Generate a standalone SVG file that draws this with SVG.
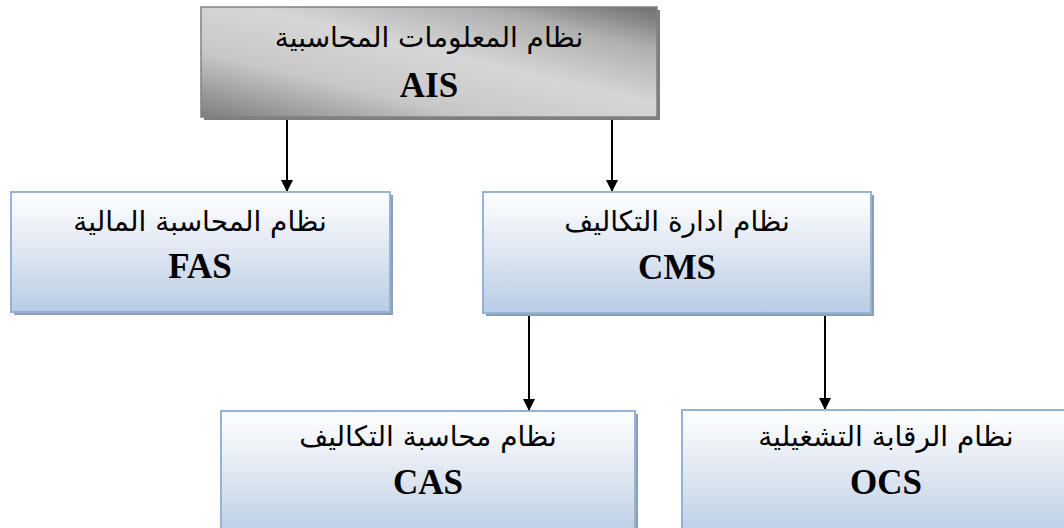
<svg xmlns="http://www.w3.org/2000/svg" width="1064" height="528" viewBox="0 0 1064 528">
<defs>
<linearGradient id="gBlue" x1="0" y1="0" x2="0" y2="1">
<stop offset="0" stop-color="#ffffff"/>
<stop offset="0.45" stop-color="#e2e9f3"/>
<stop offset="1" stop-color="#b9cce4"/>
</linearGradient>
<linearGradient id="gGray" x1="0" y1="1" x2="1" y2="0">
<stop offset="0" stop-color="#7e7e7e"/>
<stop offset="0.3" stop-color="#c8c8c8"/>
<stop offset="0.55" stop-color="#d6d6d6"/>
<stop offset="0.8" stop-color="#b0b0b0"/>
<stop offset="1" stop-color="#6e6e6e"/>
</linearGradient>
<marker id="arr" markerUnits="userSpaceOnUse" markerWidth="12" markerHeight="14" refX="11" refY="6" orient="auto">
<path d="M0,0 L12,6 L0,12 Z" fill="#000"/>
</marker>
<style>
.shadowB{fill:#8c9fb5}
.shadowG{fill:#7f7f7f}
.boxB{fill:url(#gBlue);stroke:#95b3d7;stroke-width:2}
.boxG{fill:url(#gGray);stroke:#808080;stroke-width:1.5}
.ar{font-family:"DejaVu Sans","Noto Sans",sans-serif;font-size:28px;fill:#000;text-anchor:middle}
.en{font-family:"Liberation Serif","Times New Roman",serif;font-weight:bold;font-size:35px;fill:#000;text-anchor:middle}
.conn{stroke:#000;stroke-width:2;fill:none;marker-end:url(#arr)}
</style>
</defs>
<rect width="1064" height="528" fill="#fff"/>
<g id="connectors">
<line class="conn" x1="287" y1="117" x2="287" y2="191"/>
<line class="conn" x1="612" y1="117" x2="612" y2="191"/>
<line class="conn" x1="529" y1="315" x2="529" y2="410"/>
<line class="conn" x1="825" y1="315" x2="825" y2="409"/>
</g>
<g id="node-AIS">
<rect class="shadowG" x="204" y="10" width="456" height="110"/>
<rect class="boxG" x="201" y="7" width="456" height="110"/>
<text class="ar" x="429" y="47" direction="rtl">نظام المعلومات المحاسبية</text>
<text class="en" x="429" y="97">AIS</text>
</g>
<g id="node-FAS">
<rect class="shadowB" x="14" y="195" width="379" height="120"/>
<rect class="boxB" x="11" y="192" width="379" height="120"/>
<text class="ar" x="200" y="231" direction="rtl">نظام المحاسبة المالية</text>
<text class="en" x="200" y="278">FAS</text>
</g>
<g id="node-CMS">
<rect class="shadowB" x="486" y="195" width="388" height="121"/>
<rect class="boxB" x="483" y="192" width="388" height="121"/>
<text class="ar" x="677" y="231" direction="rtl">نظام ادارة التكاليف</text>
<text class="en" x="677" y="279">CMS</text>
</g>
<g id="node-CAS">
<rect class="shadowB" x="224" y="414" width="414" height="130"/>
<rect class="boxB" x="221" y="411" width="414" height="130"/>
<text class="ar" x="428" y="446" direction="rtl">نظام محاسبة التكاليف</text>
<text class="en" x="428" y="494">CAS</text>
</g>
<g id="node-OCS">
<rect class="shadowB" x="685" y="413" width="414" height="130"/>
<rect class="boxB" x="682" y="410" width="414" height="130"/>
<text class="ar" x="886" y="446" direction="rtl">نظام الرقابة التشغيلية</text>
<text class="en" x="886" y="494">OCS</text>
</g>
</svg>
